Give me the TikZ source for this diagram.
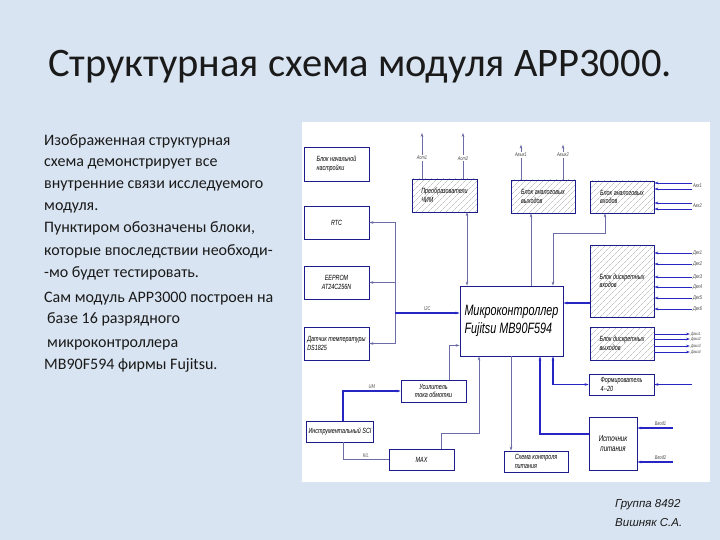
\documentclass[tikz,border=0pt]{standalone}
\usepackage{fontspec}
\setmainfont{Carlito}
\newfontfamily\gost{Liberation Sans}[FakeStretch=0.72]
\newfontfamily\sign{Liberation Sans}
\usetikzlibrary{arrows.meta,positioning,calc,patterns.meta}
\definecolor{slide}    {HTML}{D8E4F1}
\definecolor{ink}      {HTML}{1A1A1A}
\definecolor{navy}     {HTML}{1C1C8A}
\definecolor{wiregrey} {HTML}{6C6CA6}
\definecolor{busblue}  {HTML}{2626C4}
\definecolor{hatch}    {HTML}{A6A6A6}
\definecolor{labelgrey}{HTML}{4A4A4A}

\tikzset{
  blk/.style={draw=navy, line width=0.8pt, fill=white, inner sep=2pt, align=left,
              font=\gost\itshape\fontsize{7.5}{8.5}\selectfont},
  hblk/.style={blk, pattern={Lines[angle=45,distance=4pt,line width=0.35pt]}, pattern color=hatch},
  wire/.style={draw=wiregrey, line width=0.6pt},
  busline/.style={draw=busblue, line width=1.2pt},
  sigto/.style={-{Stealth[length=4pt,width=2.6pt]}},
  sigboth/.style={{Stealth[length=4pt,width=2.6pt]}-{Stealth[length=4pt,width=2.6pt]}},
  sig/.style={font=\gost\itshape\fontsize{5.5}{6}\selectfont, text=labelgrey, inner sep=0.8pt},
}

\begin{document}
\begin{tikzpicture}[x=1pt,y=-1pt]
  \useasboundingbox[fill=slide] (0,0) rectangle (720,540);
  \fill[white] (302,122) rectangle (710,482);

  \node[font=\fontsize{40.5}{44}\selectfont, text=ink, anchor=base] (title) at (360,77)
    {Структурная схема модуля APP3000.};
  \foreach \xx/\yy/\txt [count=\i] in {44/146/Изображенная структурная,
      44/167/схема демонстрирует все, 44/189/внутренние связи исследуемого,
      44/211/модуля., 44/233/{Пунктиром обозначены блоки,},
      44/255/которые впоследствии необходи-, 44/277/-мо будет тестировать.,
      44/302/Сам модуль APP3000 построен на, 47/323/базе 16 разрядного,
      47/347/микроконтроллера, 44/369/MB90F594 фирмы Fujitsu.}
    {\node[font=\fontsize{16}{19}\selectfont, text=ink, anchor=base west, inner sep=0pt]
       (note\i) at (\xx,\yy) {\txt};}

  \node[blk, minimum width=65, minimum height=34] (setup) at (336.5,164) {Блок начальной\\настройки};
  \node[blk, minimum width=65, minimum height=33] (rtc) at (336.5,222.5) {RTC};
  \node[blk, minimum width=65, minimum height=33, align=center] (eeprom) at (336.5,282.5) {EEPROM\\AT24C256N};
  \node[blk, minimum width=65, minimum height=33] (temp) at (336.5,343.5) {Датчик температуры\\DS1825};
  \node[hblk, minimum width=65, minimum height=33] (chim) at (444.5,195.5) {Преобразователи\\ЧИМ};
  \node[hblk, minimum width=64, minimum height=33] (aout) at (543,196.5) {Блок аналоговых\\выходов};
  \node[hblk, minimum width=64, minimum height=32] (ain) at (622,197) {Блок аналоговых\\входов};
  \node[hblk, minimum width=64, minimum height=72] (din) at (622,281) {Блок дискретных\\входов};
  \node[hblk, minimum width=64, minimum height=33] (dout) at (622,343.5) {Блок дискретных\\выходов};
  \node[blk, minimum width=103, minimum height=70, font=\gost\itshape\fontsize{15}{18}\selectfont]
    (mcu) at (511.5,321) {Микроконтроллер\\Fujitsu MB90F594};
  \node[blk, minimum width=65, minimum height=22, align=center] (amp) at (433.5,391) {Усилитель\\тока обмотки};
  \node[blk, minimum width=66, minimum height=21] (sci) at (340,431.5) {Инструментальный SCI};
  \node[blk, minimum width=65, minimum height=21, align=center] (max) at (421.5,459.5) {MAX};
  \node[blk, minimum width=64, minimum height=21] (reset) at (536,461.5) {Схема контроля\\питания};
  \node[blk, minimum width=65, minimum height=21] (form) at (621.5,384.5) {Формирователь\\4--20};
  \node[blk, minimum width=48, minimum height=53, align=center, font=\gost\itshape\fontsize{8.5}{10.5}\selectfont]
    (power) at (613,443.5) {Источник\\питания};

  \coordinate (bustop) at (395,222.5);
  \coordinate (busbot) at (395,343.5);
  \coordinate (i2c) at (395,313);
  \draw[wire] (bustop) -- (busbot);
  \draw[wire, sigto] (bustop) -- (rtc.east);
  \draw[wire, sigto] (bustop |- eeprom.east) -- (eeprom.east);
  \draw[wire, sigto] (busbot) -- (temp.east);
  \draw[busline, sigto] (i2c) -- (i2c -| mcu.west) node[sig, midway, above=1pt] {I2C};

  \foreach \dx/\lab in {-22.5/Аот1, 18.5/Аот2}
    {\draw[wire, sigto] ([xshift=\dx]chim.north) -- ++(0,-46)
       node[sig, pos=0.45, fill=white] {\lab};}
  \foreach \dx/\lab in {-22/Авых1, 20/Авых2}
    {\draw[wire, sigto] ([xshift=\dx]aout.north) -- ++(0,-35)
       node[sig, pos=0.7, fill=white] {\lab};}

  \foreach \yy/\lab [count=\i] in {186/Авх1, 206/Авх2}
    {\coordinate (ainin\i) at (692,\yy);
     \draw[busline, line width=0.9pt, sigto] ([yshift=3]ainin\i) -- ([yshift=3]ainin\i -| ain.east);
     \draw[busline, line width=0.9pt, sigto] ([yshift=-3]ainin\i) -- ([yshift=-3]ainin\i -| ain.east);
     \node[sig, anchor=west] at (ainin\i) {\lab};}
  \foreach \yy/\lab [count=\i] in {253/Двх1, 264/Двх2, 277/Двх3, 287/Двх4, 298/Двх5, 309/Двх6}
    {\coordinate (dinin\i) at (692,\yy);
     \draw[busline, line width=0.9pt, sigto] (dinin\i) -- (dinin\i -| din.east);
     \node[sig, anchor=west] at (dinin\i) {\lab};}
  \foreach \yy/\lab [count=\i] in {334/Двых1, 339/Двых2, 346/Двых3, 352/Двых4}
    {\coordinate (doutout\i) at (690,\yy);
     \draw[busline, line width=0.8pt, sigto] (doutout\i -| dout.east) -- (doutout\i);
     \node[sig, anchor=west, font=\gost\itshape\fontsize{4.5}{5}\selectfont] at (doutout\i) {\lab};}
  \foreach \yy/\lab [count=\i] in {428/Ввод1, 462/Ввод2}
    {\coordinate (powin\i) at (673,\yy);
     \draw[busline, sigto] (powin\i) -- (powin\i -| power.east)
       node[sig, pos=0.35, above=1pt] {\lab};}

  \draw[wire, sigboth] ([xshift=22.5]chim.south) -- ([xshift=22.5]chim.south |- mcu.north);
  \draw[wire, sigto] ([xshift=-12]aout.south |- mcu.north) -- ([xshift=-12]aout.south);
  \coordinate (ainbend) at (553,233);
  \draw[wire, sigboth] ([xshift=-17]ain.south) |- (ainbend) -- (ainbend |- mcu.north);
  \coordinate (dinbus) at (575,303);
  \draw[busline, sigto] (din.west |- dinbus) -- (mcu.east |- dinbus);

  \draw[wire, sigto] ([xshift=15.5]amp.north) |- ([yshift=11]mcu.south west);
  \draw[busline, sigto] ([xshift=3]sci.north) |- (amp.west) node[sig, pos=0.75, above=1pt] {UM};
  \draw[wire] ([xshift=3]sci.south) |- (max.west) node[sig, pos=0.75, above=1pt] {K/L};
  \coordinate (maxbend) at (479,433);
  \draw[wire, sigto] ([xshift=19.5]max.north) |- (maxbend) -- (maxbend |- mcu.south);
  \draw[wire, sigto] ([xshift=-25]reset.north |- mcu.south) -- ([xshift=-25]reset.north);
  \draw[busline, sigto] ([yshift=9.5]power.west) -| ([xshift=28.5]mcu.south);
  \draw[busline, sigboth] (form.west) -| ([xshift=41.5]mcu.south);
  \coordinate (formout) at (692,384.5);
  \draw[busline, sigto] (formout) -- (form.east);

  \node[font=\sign\itshape\fontsize{11.5}{13}\selectfont, text=ink, anchor=base west, inner sep=0pt]
    (group) at (615,507) {Группа 8492};
  \node[font=\sign\itshape\fontsize{11.5}{13}\selectfont, text=ink, anchor=base west, inner sep=0pt]
    (author) at (615,526) {Вишняк С.А.};
\end{tikzpicture}
\end{document}
